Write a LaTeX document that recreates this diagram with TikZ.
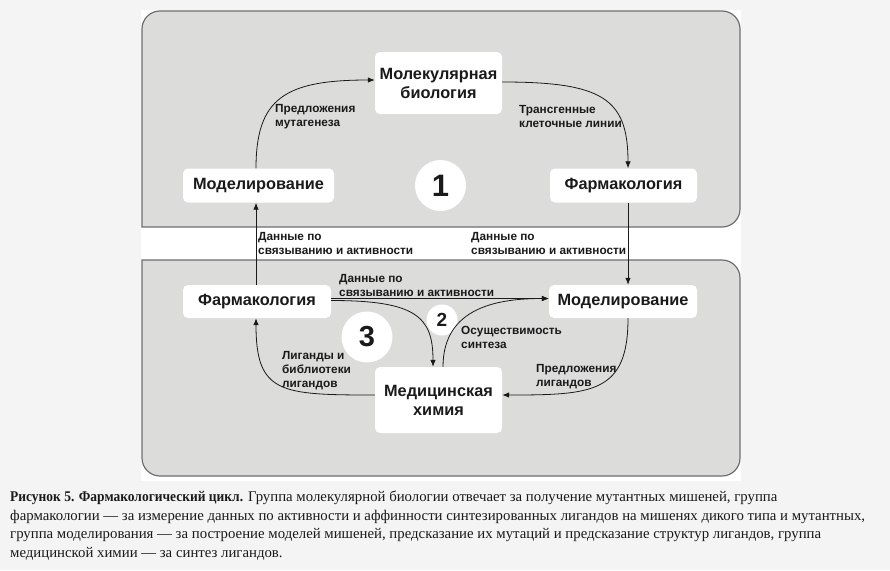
\documentclass[tikz,border=0pt]{standalone}
\usepackage{fontspec}
\setmainfont{Liberation Serif}
\newfontfamily\labfont{Liberation Sans}
\usetikzlibrary{arrows.meta}
\definecolor{pagebg}{HTML}{F4F4F4}
\definecolor{panelfill}{HTML}{DCDCDB}
\definecolor{panelline}{HTML}{6E6E6E}
\definecolor{ink}{HTML}{1A1A1A}
\tikzset{
  box/.style={fill=white, rounded corners=5pt, inner sep=0pt, text=ink,
    font=\labfont\bfseries\fontsize{16.3}{19}\selectfont, align=center},
  lab/.style={anchor=north west, inner sep=0pt, text=ink, align=left,
    font=\labfont\bfseries\fontsize{11.8}{14}\selectfont},
  num/.style={circle, fill=white, inner sep=0pt, text=ink, font=\labfont\bfseries},
  conn/.style={draw=ink, line width=0.8pt, -{Latex[length=7pt,width=5.5pt]}},
  panel/.style={fill=panelfill, draw=panelline, line width=1.2pt},
}
\begin{document}
\begin{tikzpicture}[x=1pt,y=-1pt]
\useasboundingbox (0,0) rectangle (890,570);
\fill[pagebg] (0,0) rectangle (890,570);
\fill[white] (141,10) rectangle (741,481);
% panels
\draw[panel, rounded corners=18pt] (142,227) -- (142,11) -- (740,11) -- (740,227) [sharp corners] -- cycle;
\draw[panel, rounded corners=18pt] (142,260) -- (142,476) -- (740,476) -- (740,260) [sharp corners] -- cycle;
% nodes
\node[box, minimum width=127pt, minimum height=62pt] (molbio) at (438.5,83) {Молекулярная\\биология};
\node[box, minimum width=151pt, minimum height=34pt] (mod1) at (258.5,185.5) {Моделирование};
\node[box, minimum width=147pt, minimum height=34pt] (pharm1) at (623.5,185.5) {Фармакология};
\node[box, minimum width=148pt, minimum height=33pt] (pharm2) at (257,301.5) {Фармакология};
\node[box, minimum width=148pt, minimum height=33pt] (mod2) at (623,301.5) {Моделирование};
\node[box, minimum width=127pt, minimum height=66pt] (medchem) at (438.5,400) {Медицинская\\химия};
\node[num, minimum size=51pt, font=\labfont\bfseries\fontsize{31}{31}\selectfont] (n1) at (440.5,185.5) {1};
\node[num, minimum size=31pt, font=\labfont\bfseries\fontsize{19}{19}\selectfont] (n2) at (442,320) {2};
\node[num, minimum size=51pt, font=\labfont\bfseries\fontsize{29}{29}\selectfont] (n3) at (367,337) {3};
% connectors
\draw[conn] ([xshift=-2.5pt]mod1.north) .. controls +(0,-70) and +(-90,0) .. ([yshift=3pt]molbio.west);
\draw[conn] ([yshift=1pt]molbio.east) .. controls +(100,0) and +(0,-70) .. ([xshift=4.5pt]pharm1.north);
\draw[conn] ([xshift=4.5pt]pharm1.south) -- ([xshift=5pt]mod2.north);
\draw[conn] ([xshift=-1pt]pharm2.north) -- ([xshift=-2.5pt]mod1.south);
\draw[conn] ([yshift=3pt]pharm2.east) -- ([yshift=3pt]mod2.west);
\draw[conn] ([yshift=1pt]pharm2.east) .. controls +(85,0) and +(0,-50) .. ([xshift=-5.5pt]medchem.north);
\draw[conn] ([xshift=4.5pt]medchem.north) .. controls +(0,-60) and +(-50,0) .. ([yshift=3pt]mod2.west);
\draw[conn] ([xshift=5pt]mod2.south) .. controls +(0,75) and +(90,0) .. ([yshift=5pt]medchem.east);
\draw[conn] ([yshift=5pt]medchem.west) .. controls +(-95,0) and +(0,75) .. ([xshift=-1pt]pharm2.south);
% labels
\node[lab] (l1) at (275,104) {Предложения\\мутагенеза};
\node[lab] (l2) at (519,105) {Трансгенные\\клеточные линии};
\node[lab] (l3) at (258,232.5) {Данные по\\связыванию и активности};
\node[lab] (l4) at (471,232.5) {Данные по\\связыванию и активности};
\node[lab] (l5) at (339,274) {Данные по\\связыванию и активности};
\node[lab] (l6) at (461,326) {Осуществимость\\синтеза};
\node[lab] (l7) at (282,351) {Лиганды и\\библиотеки\\лигандов};
\node[lab] (l8) at (536,364) {Предложения\\лигандов};
% caption
\node[anchor=north west, inner sep=0pt, align=left, text=ink,
  font=\fontsize{14.8}{18.5}\selectfont] (cap) at (10,491)
  {{\bfseries\addfontfeatures{FakeStretch=0.91}Рисунок 5. Фармакологический цикл.} Группа молекулярной биологии отвечает за получение мутантных мишеней, группа\\
  фармакологии — за измерение данных по активности и аффинности синтезированных лигандов на мишенях дикого типа и мутантных,\\
  группа моделирования — за построение моделей мишеней, предсказание их мутаций и предсказание структур лигандов, группа\\
  медицинской химии — за синтез лигандов.};
\end{tikzpicture}
\end{document}
